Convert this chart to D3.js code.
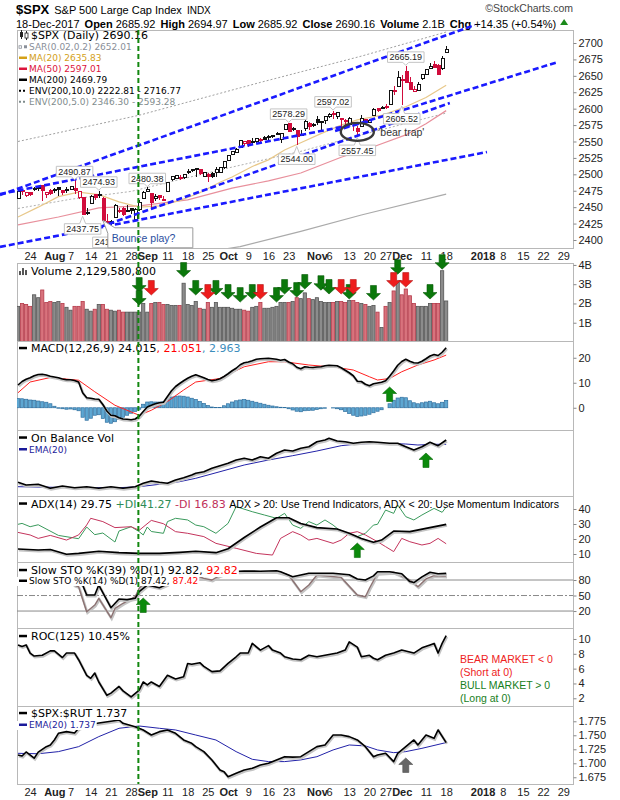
<!DOCTYPE html>
<meta charset="utf-8">
<style>
body { margin: 0; background: #fff; }
svg text { font-family: "Liberation Sans", Arial, sans-serif; }
.lgd { font-family: "DejaVu Sans", Verdana, sans-serif !important; }
</style>
<body>
<script src="https://d3js.org/d3.v7.min.js"></script>
<script>
// ---------- data ----------
var holidays = ["2017-09-04", "2017-11-23", "2017-12-25"];
var prevClose = 2460.61; // close before first bar, only used for colour

var open = [2463.85,2475.56,2467.40,2472.04,2477.88,2479.97,2482.76,2469.12,2475.94,2477.10,2480.38,2476.03,2476.88,2477.14,2478.35,2465.35,2465.38,2441.04,2454.96,2468.66,2468.63,2462.95,2427.64,2425.50,2433.75,2444.88,2447.91,2444.72,2447.35,2431.94,2446.06,2462.65,2474.42,2470.35,2463.83,2468.06,2462.25,2474.52,2491.94,2493.89,2494.56,2495.67,2502.51,2506.29,2506.84,2507.16,2497.26,2499.39,2501.04,2503.30,2503.41,2509.96,2521.20,2530.34,2533.48,2540.86,2547.44,2551.39,2549.99,2550.62,2552.88,2555.66,2555.57,2557.17,2562.87,2553.39,2567.56,2578.08,2568.66,2566.52,2560.08,2570.26,2577.75,2575.99,2583.21,2579.46,2581.93,2587.47,2592.11,2588.71,2584.00,2580.18,2576.53,2577.75,2569.45,2572.95,2582.94,2579.49,2589.17,2600.31,2600.42,2602.66,2605.94,2627.82,2633.93,2645.10,2657.19,2639.78,2626.24,2628.38,2646.21,2652.19,2661.73,2667.59,2665.87,2660.63,2685.92];
var high = [2473.83,2477.62,2472.54,2473.10,2481.24,2481.69,2484.04,2473.53,2477.96,2478.51,2480.38,2476.03,2480.00,2480.95,2490.87,2474.41,2465.38,2448.09,2468.22,2468.90,2474.93,2465.02,2440.27,2430.58,2454.77,2448.91,2450.39,2453.96,2449.12,2449.19,2460.31,2475.01,2480.38,2471.97,2469.64,2468.62,2467.11,2488.95,2496.77,2498.37,2498.43,2500.23,2508.32,2507.84,2508.85,2507.16,2503.47,2502.54,2503.51,2511.75,2510.81,2519.44,2529.23,2535.13,2540.53,2552.51,2549.41,2551.82,2555.23,2555.24,2555.33,2557.65,2559.47,2559.71,2564.11,2562.36,2575.44,2578.29,2572.18,2567.40,2567.07,2582.98,2580.03,2578.29,2588.40,2581.11,2588.42,2593.38,2597.02,2595.47,2586.50,2583.81,2587.66,2579.66,2572.84,2590.09,2583.96,2584.64,2601.19,2600.94,2604.21,2606.41,2627.69,2634.89,2657.74,2650.62,2665.19,2648.72,2634.41,2640.99,2651.65,2660.33,2669.72,2671.88,2668.09,2679.63,2694.97];
var low = [2463.85,2468.43,2465.06,2466.32,2474.91,2474.94,2459.93,2464.66,2468.53,2471.14,2466.48,2468.85,2472.08,2475.88,2470.32,2462.08,2437.75,2437.85,2454.96,2461.61,2463.86,2430.01,2420.69,2417.35,2433.67,2441.42,2436.19,2442.22,2439.03,2428.20,2443.77,2462.65,2473.85,2446.55,2459.20,2460.29,2459.40,2474.52,2490.37,2492.14,2491.35,2493.16,2499.92,2503.19,2496.67,2499.00,2496.54,2488.03,2495.12,2495.91,2502.93,2507.99,2520.40,2528.85,2531.80,2540.02,2543.79,2541.60,2544.86,2547.95,2548.31,2552.09,2552.64,2554.69,2559.67,2547.92,2567.56,2564.33,2565.58,2544.00,2559.80,2565.94,2568.25,2572.15,2574.92,2566.17,2576.77,2585.66,2584.35,2585.02,2566.33,2575.57,2574.48,2566.56,2557.45,2572.95,2577.62,2578.24,2589.17,2595.23,2600.42,2598.87,2605.44,2620.32,2633.93,2605.52,2639.03,2627.73,2624.75,2628.38,2644.10,2651.47,2659.78,2662.85,2652.01,2659.14,2685.92];
var close = [2473.83,2473.45,2472.54,2469.91,2477.13,2477.83,2475.42,2472.10,2470.30,2476.35,2477.57,2472.16,2476.83,2480.91,2474.92,2474.02,2438.21,2441.32,2465.84,2464.61,2468.11,2430.01,2425.55,2428.37,2452.51,2444.04,2438.97,2443.05,2444.24,2446.30,2457.59,2471.65,2476.55,2457.85,2465.54,2465.10,2461.43,2488.11,2496.48,2498.37,2495.62,2500.23,2503.87,2506.65,2508.24,2500.60,2502.22,2496.66,2496.84,2507.04,2510.06,2519.36,2529.12,2534.58,2537.74,2552.07,2549.33,2544.73,2550.64,2555.24,2550.93,2553.17,2557.64,2559.36,2561.26,2562.10,2575.21,2564.98,2569.13,2557.15,2560.40,2581.07,2572.83,2575.26,2579.36,2579.85,2587.84,2591.13,2590.64,2594.38,2584.62,2582.30,2584.84,2578.87,2564.62,2585.64,2578.85,2582.14,2599.03,2597.08,2602.42,2601.42,2627.04,2626.07,2647.58,2642.22,2639.44,2629.57,2629.27,2636.98,2651.50,2659.99,2664.11,2662.85,2652.01,2675.81,2690.16];

// volume, billions
var volume = [1.85,2.0,1.95,1.85,2.45,2.3,2.7,2.05,2.1,2.05,2.1,2.0,1.8,1.65,1.85,1.85,2.1,1.7,1.6,1.7,1.95,1.95,1.7,1.65,1.6,1.65,1.55,1.55,1.55,1.55,1.55,2.0,1.55,2.0,2.05,2.05,1.95,1.95,1.9,1.9,1.9,3.05,1.95,1.9,2.1,1.75,1.7,2.05,1.8,2.05,1.8,1.8,1.8,1.75,1.7,1.7,1.65,1.6,1.8,1.85,2.05,1.75,1.75,1.8,1.85,2.05,2.05,2.05,2.1,2.3,2.25,2.55,2.25,2.2,2.3,2.1,2.05,2.05,2.05,2.1,2.1,2.05,2.15,2.15,2.05,2.0,1.95,1.85,1.9,1.55,0.75,1.85,2.05,2.65,3.1,2.45,2.75,2.4,2.0,1.85,1.85,1.85,2.0,2.0,2.0,3.7,2.13];

// price overlays (sampled by trading-day index)
var ma20Day = [0,5,10,15,20,25,30,35,40,45,50,53,58,62,66,70,75,80,84,90,96,101,106];
var ma20Val = [2435,2450,2466,2473,2469,2458,2450,2452,2460,2472,2488,2496,2512,2522,2537,2548,2562,2575,2583,2590,2603,2617,2635.83];
var ma50Day = [0,10,20,30,42,53,62,70,80,88,96,101,106];
var ma50Val = [2423,2435,2449,2452,2461,2479,2490,2502,2526,2542,2560,2577,2597.01];
var ma200Day = [0,20,40,55,70,85,106];
var ma200Val = [2330,2352,2375,2390,2413,2438,2469.79];
var env10Day = [0,30,60,85,106];
var env10Val = [2550,2590,2640,2680,2716.77];
var env5Day = [0,13,28,42,53,70,85,106];
var env5Val = [2448,2462,2474,2495,2511,2535,2560,2593.28];

// hand-drawn trendlines: [day, price] ends
var trendFrom = [[-4.46,2468.5],[-4.46,2470.0],[78.5,2566.0],[20.3,2419.8],[-4.46,2389.4]];
var trendTo = [[113.1,2727.4],[87.6,2581.2],[133.7,2671.1],[106.9,2608.6],[116.1,2534.0]];

// price callouts
var peakDay = [14,20,16,23,32,67,69,78,84,95,96];
var peakVal = [2490.87,2474.93,2437.75,2417.35,2480.38,2578.29,2544.00,2597.02,2557.45,2605.52,2665.19];
var peakSide = ["above","above","below","below","above","above","below","above","below","below","above"];

// MACD
var macd = [9.1,10.5,11.4,12.0,12.8,13.3,13.4,13.1,12.6,12.3,12.0,11.5,11.2,11.2,10.9,10.3,6.0,4.0,3.8,3.5,3.4,1.3,-1.3,-3.0,-3.2,-4.0,-4.5,-4.6,-4.8,-4.5,-3.4,-1.5,0.3,1.0,1.6,2.0,2.2,4.5,6.8,8.5,9.7,10.8,11.8,12.6,13.2,12.6,12.0,11.3,10.8,11.1,11.6,12.5,13.6,14.8,15.8,17.2,18.0,18.3,18.8,19.4,19.6,19.7,19.8,19.6,19.4,19.0,19.3,18.3,17.6,16.2,15.6,16.4,16.2,16.1,16.3,16.4,16.8,17.0,16.9,16.8,16.0,15.0,14.0,12.8,10.6,10.5,9.4,8.8,9.6,9.9,10.2,10.8,12.6,14.7,17.0,18.5,19.4,18.6,18.0,17.9,18.6,19.6,20.7,21.3,20.9,22.2,24.015];
var signalDay = [0,3,8,15,19,24,30,33,37,41,44,50,56,62,66,72,79,83,87,89,92,95,99,103,106];
var signalVal = [6.0,10.3,12.1,11.0,6.4,1.0,-3.0,-1.0,2.5,7.1,10.3,11.7,16.4,18.4,18.4,17.1,16.1,15.1,12.4,11.1,11.7,14.4,17.1,19.1,21.051];
var hist = [3.7,3.6,3.4,3.1,3.0,2.7,2.4,2.2,1.6,0.6,-0.2,-0.4,-0.6,-0.5,-0.8,-1.2,-3.8,-5.0,-4.2,-3.0,-2.8,-4.3,-5.8,-6.2,-5.6,-4.6,-3.8,-3.0,-2.2,-1.5,-0.6,1.4,2.3,2.4,2.3,2.3,2.4,3.6,4.3,4.6,4.7,4.6,4.3,3.8,3.3,2.5,1.7,0.9,0.3,0.1,0.1,0.8,1.6,2.3,2.8,3.1,3.3,3.0,2.6,2.2,1.8,1.4,1.0,0.7,0.4,0.2,0.1,-0.4,-0.9,-1.4,-1.6,-1.2,-1.1,-1.0,-0.7,-0.4,-0.2,0.0,-0.1,-0.4,-0.8,-1.5,-2.3,-3.0,-3.5,-3.3,-3.0,-2.6,-2.0,-1.4,-0.8,0.0,1.6,3.0,3.9,4.2,4.0,2.8,2.0,1.6,2.0,2.3,2.6,2.0,1.6,2.2,2.963];

// On balance volume (relative, billions) and its EMA(20)
var obvDay = [0,2,5,8,11,14,17,20,23,26,29,31,33,35,37,39,41,43,44,46,48,50,52,54,56,58,60,62,64,66,68,70,72,74,76,77,79,81,83,85,87,89,92,94,96,98,100,102,104,106];
var obvVal = [7.7,5,5.7,1.7,4,2.3,3.3,1.7,3.3,1.7,3.3,6.7,9,7.7,6.7,10,12.3,15,16.7,18.3,21.7,24.3,26.7,30,31.7,30,33.3,31.7,36.7,40,39,41.7,43.3,48.3,50,51.7,49,48.3,46.7,47.7,48.3,47.7,46.7,46.7,43.3,40,43.3,47.7,44.3,50];
var obvEmaDay = [0,15,25,30,35,40,44,50,56,62,68,74,80,84,89,96,99,103,106];
var obvEmaVal = [3.3,2.3,2.3,3.3,5.7,8.3,11.7,18.3,25,30,34.3,39,44.3,46,46.7,46,45,45.7,45.7];

// ADX(14)
var adxDay = [0,5,8,12,15,20,25,30,35,40,44,49,52,56,60,64,67,70,74,79,82,85,88,90,93,97,101,106];
var adxVal = [13.3,12.7,13,9.8,10.4,11.8,10.9,10.4,10.4,11.1,11.8,10.9,13.5,21,28,34.2,34.2,30.4,27.6,26.7,23.8,20.4,17.8,19.3,25.3,24.9,27.1,29.75];
var pdiDay = [0,1,3,5,10,15,17,19,21,24,25,28,30,31,32,33,36,37,39,42,44,46,49,52,54,58,61,64,66,68,70,72,74,76,78,80,82,84,86,88,89,91,93,94,96,98,100,103,105,106];
var pdiVal = [29.8,30.4,28.2,29.5,22.4,20.2,28,22.9,24,18,25.3,28.2,24.9,22.7,28,25,23.8,31.6,33.8,32.7,29.3,28.2,23.8,30.4,41.6,38.2,36,33.8,37.1,29.3,27.1,31.6,29.3,32.7,29.3,24.9,22.7,21.6,23.8,29.3,29.8,39.3,37.1,42.7,34.9,32.7,36,40.4,37.8,41.27];
var mdiDay = [0,3,5,8,12,15,17,18,21,24,28,30,33,36,39,42,46,49,54,59,63,65,68,70,72,74,78,80,82,84,86,89,91,93,95,97,100,102,104,106];
var mdiVal = [24.4,22.7,20.4,22.4,19.3,22.7,29.3,33.8,31.6,27.6,28.2,25.8,32.4,30.2,24.9,23.8,21.6,17.1,13.8,10.4,9.3,20.4,24.9,22.7,19.3,20.4,17.1,19.3,23.8,24.9,22.7,18.2,14.9,11.6,20.4,18.2,16,17.1,20.4,16.83];

// Slow stochastics
var k39Day = [0,3,6,9,12,14,16,17,19,20,23,25,27,29,30,32,35,37,39,42,44,46,49,52,56,60,64,65,68,72,78,82,84,86,88,89,92,95,97,98,100,102,104,106];
var k39Val = [92,88,90,86,88,80,70.3,51,51,70.3,26.4,43.2,42,44.6,57.4,70.3,65,72,88,92,95,89.7,92,96,97.5,97,98,96,86.4,93,93,90,82,80,88,96,96,92,77,75,86,95,92,92.82];
var k14Day = [0,3,6,9,12,14,15,17,19,20,23,24,26,29,30,32,35,38,42,46,48,50,52,56,64,67,70,72,74,80,84,86,87,89,93,97,99,101,103,106];
var k14Val = [90,80,88,75,85,70,67,18.7,31.6,44.6,7.1,25,35,47.7,64,80,75,90,95,83.2,80,89,95,96,96,89.7,57.4,70.3,89.7,85,51,47.7,64,93,95,80,67,82,88.3,87.42];

// ROC(125)
var rocDay = [0,1,2,3,4,6,8,9,11,12,14,15,17,18,19,20,22,23,25,26,28,30,31,32,33,35,37,39,41,42,43,45,46,48,50,52,54,55,57,58,60,62,63,65,66,68,70,72,74,76,79,81,82,84,85,87,88,89,91,93,95,98,100,102,103,104,105,106];
var rocVal = [9.2,9.0,9.2,8.1,7.7,7.8,8.4,8.4,7.5,8.1,8.1,7.2,5.1,4.7,5.4,4.2,2.4,2.7,3.6,3.0,2.2,3.1,4.2,3.8,4.2,3.6,5.1,4.6,4.9,6.7,6.6,6.8,6.3,5.6,5.7,6.7,7.6,8.1,8.1,9.4,8.5,9.1,8.5,8.1,7.6,7.3,7.2,7.8,7.6,7.8,8.1,8.5,9.6,8.9,7.6,7.8,7.4,7.2,7.8,8.1,8.5,8.1,8.8,9.2,9.4,8.1,9.4,10.45];

// $SPX:$RUT ratio and EMA(20)
var ratioDay = [0,1,2,4,5,7,8,9,10,12,14,15,17,20,23,25,26,29,31,33,35,37,39,41,43,44,46,48,50,51,52,54,56,58,60,62,64,66,68,70,72,74,76,78,80,82,84,86,88,89,91,93,94,96,98,99,101,103,104,106];
var ratioVal = [1.7148,1.713,1.7202,1.709,1.72,1.7297,1.7327,1.7416,1.7535,1.7565,1.754,1.7625,1.768,1.772,1.775,1.7773,1.7714,1.7654,1.7595,1.7505,1.7565,1.7595,1.7535,1.7416,1.7357,1.7297,1.7208,1.7059,1.688,1.685,1.676,1.682,1.688,1.691,1.697,1.700,1.706,1.7118,1.711,1.7118,1.7208,1.7297,1.7327,1.7505,1.7505,1.7476,1.7416,1.7297,1.7118,1.7148,1.7178,1.703,1.7178,1.7297,1.7416,1.7327,1.7505,1.7446,1.7595,1.737];
var ratioEmaDay = [0,5,10,15,20,25,30,35,39,44,49,54,58,62,66,70,74,78,82,86,89,93,96,100,106];
var ratioEmaVal = [1.7178,1.717,1.7208,1.7297,1.7476,1.7625,1.7666,1.7625,1.7595,1.7505,1.7416,1.7208,1.7071,1.703,1.703,1.706,1.7118,1.7238,1.7327,1.731,1.7238,1.719,1.7208,1.7267,1.737];

// annotation arrows (day, value at tip)
var greenVolArrowDay = [30,30,41,44,49,52,55,58,64,66,69,71,75,77,82,88,94,102,105];
var greenVolArrowTip = [2.59,1.92,3.37,2.44,2.44,2.23,2.07,2.23,2.07,2.49,2.33,2.75,2.69,2.49,2.23,2.18,3.52,2.23,3.78];
var redVolArrowDay = [33,47,60,80,83,93,96];
var redVolArrowTip = [2.44,2.23,2.23,2.49,2.49,2.85,2.85];
var signalLineDay = 29.8;

// axis ticks
var tickDates = ["2017-07-24","2017-08-01","2017-08-07","2017-08-14","2017-08-21","2017-08-28","2017-09-01","2017-09-11","2017-09-18","2017-09-25","2017-10-02","2017-10-09","2017-10-16","2017-10-23","2017-11-01","2017-11-06","2017-11-13","2017-11-20","2017-11-27","2017-12-01","2017-12-11","2017-12-18","2018-01-01","2018-01-08","2018-01-15","2018-01-22","2018-01-29"];
var tickText = ["24","Aug","7","14","21","28","Sep","11","18","25","Oct","9","16","23","Nov","6","13","20","27","Dec","11","18","2018","8","15","22","29"];
var priceTicks = [2400,2425,2450,2475,2500,2525,2550,2575,2600,2625,2650,2675,2700];
var volTicks = [1,2,3,4];
var macdTicks = [0,10,20];
var adxTicks = [10,20,30,40];
var stoTicks = [20,50,80];
var rocTicks = [2,4,6,8,10];
var ratioTicks = [1.675,1.700,1.725,1.750,1.775];

// ---------- calendar ----------
var fmt = d3.utcFormat("%Y-%m-%d");
var days = d3.utcDay.range(new Date(Date.UTC(2017, 6, 19)), new Date(Date.UTC(2018, 1, 3)))
  .filter(function(d) { var w = d.getUTCDay(); return w > 0 && w < 6 && holidays.indexOf(fmt(d)) < 0; });
var dayIndex = {};
days.forEach(function(d, i) { dayIndex[fmt(d)] = i; });
var tickDays = tickDates.map(function(d) { return dayIndex[d]; });

// ---------- layout ----------
var L = 17, R = 573;
var svg = d3.select("body").append("svg").attr("width", 620).attr("height", 800);
var defs = svg.append("defs");
var x = d3.scaleLinear().domain([-0.25, 137.4]).range([L, R]);

var P = {price: [30, 248], vol: [263, 341], macd: [341, 430], obv: [430, 496],
         adx: [496, 562], sto: [562, 628], roc: [628, 706], ratio: [706, 784]};
var yPrice = d3.scaleLinear().domain([2387.8, 2719.8]).range([248, 30]);
var yVol = d3.scaleLinear().domain([0, 4.1]).range([342, 263]);
var yMacd = d3.scaleLinear().domain([-8.9, 26.7]).range([430, 341]);
var yObv = d3.scaleLinear().domain([-6, 60]).range([496, 430]);
var yAdx = d3.scaleLinear().domain([4.67, 48.67]).range([562, 496]);
var ySto = d3.scaleLinear().domain([-12.8, 114.8]).range([628, 562]);
var yRoc = d3.scaleLinear().domain([0.96, 11.48]).range([706, 628]);
var yRatio = d3.scaleLinear().domain([1.663, 1.8023]).range([784, 706]);

function clip(name) {
  var p = P[name];
  defs.append("clipPath").attr("id", "c-" + name).append("rect")
    .attr("x", L).attr("y", p[0]).attr("width", R - L).attr("height", p[1] - p[0]);
  return svg.append("g").attr("clip-path", "url(#c-" + name + ")");
}
function zip(a, b) { return a.map(function(d, i) { return [d, b[i]]; }); }
function daily(arr) { return arr.map(function(v, i) { return [i, v]; }); }
function drawLine(g, data, y, color, w, opts) {
  opts = opts || {};
  var line = d3.line().x(function(d) { return x(d[0]); }).y(function(d) { return y(d[1]); });
  if (opts.shadow) {
    g.append("path").attr("d", line(data)).attr("fill", "none").attr("stroke", "#c4c4c4")
      .attr("stroke-width", w + 1).attr("transform", "translate(0.8,1.2)");
  }
  return g.append("path").attr("d", line(data)).attr("fill", "none").attr("stroke", color)
    .attr("stroke-width", w).attr("stroke-linejoin", "round")
    .attr("stroke-dasharray", opts.dash || null).attr("opacity", opts.opacity || 1);
}

// ---------- header ----------
var hd = svg.append("g");
var h1 = hd.append("text").attr("x", 16).attr("y", 13.5).attr("font-size", 11);
h1.append("tspan").attr("font-size", 13).attr("font-weight", "bold").text("$SPX");
h1.append("tspan").attr("dx", 5).text("S&P 500 Large Cap Index");
h1.append("tspan").attr("dx", 5).attr("font-size", 10).text("INDX");
hd.append("text").attr("x", 573).attr("y", 12).attr("font-size", 10.5).attr("fill", "#444")
  .attr("text-anchor", "end").text("\u00A9StockCharts.com");
var h2 = hd.append("text").attr("x", 16).attr("y", 27.5).attr("font-size", 11);
[["18-Dec-2017", 0, 0], ["Open", 1, 5], ["2685.92", 0, 3], ["High", 1, 5], ["2694.97", 0, 3],
 ["Low", 1, 5], ["2685.92", 0, 3], ["Close", 1, 5], ["2690.16", 0, 3], ["Volume", 1, 5],
 ["2.1B", 0, 3], ["Chg", 1, 5], ["+14.35 (+0.54%)", 0, 3]].forEach(function(t) {
  h2.append("tspan").attr("dx", t[2]).attr("font-weight", t[1] ? "bold" : null).text(t[0]);
});
var hb = h2.node().getBBox();
hd.append("path").attr("d", "M" + (hb.x + hb.width + 4) + ",25 l4,-6 l4,6 z").attr("fill", "#1a8a1a");

// ---------- panel frames ----------
Object.keys(P).forEach(function(k) {
  svg.append("rect").attr("x", L + 0.5).attr("y", P[k][0] + 0.5).attr("width", R - L)
    .attr("height", P[k][1] - P[k][0]).attr("fill", "none").attr("stroke", "#b8b8b8");
});

// ---------- price panel ----------
var pg = clip("price");
drawLine(pg, zip(env10Day, env10Val), yPrice, "#a0a0a0", 1, {dash: "2,2"});
drawLine(pg, zip(env5Day, env5Val), yPrice, "#b0b0b0", 1, {dash: "2,2"});
drawLine(pg, zip(ma200Day, ma200Val), yPrice, "#aaaaaa", 1.2);
drawLine(pg, zip(ma50Day, ma50Val), yPrice, "#e8909c", 1.2);
drawLine(pg, zip(ma20Day, ma20Val), yPrice, "#e8c88a", 1.2);

var cg = pg.append("g").attr("shape-rendering", "crispEdges");
close.forEach(function(c, i) {
  var o = open[i], prev = i ? close[i - 1] : prevClose;
  var col = c >= prev ? "#111" : "#d10c3c";
  var cx = Math.round(x(i)) + 0.5;
  var yt = yPrice(Math.max(o, c)), yb = yPrice(Math.min(o, c));
  if (yb - yt < 1) { yb = yt + 1; }
  cg.append("line").attr("x1", cx).attr("x2", cx).attr("y1", yPrice(high[i])).attr("y2", yt).attr("stroke", col);
  cg.append("line").attr("x1", cx).attr("x2", cx).attr("y1", yb).attr("y2", yPrice(low[i])).attr("stroke", col);
  cg.append("rect").attr("x", cx - 1.5).attr("y", yt).attr("width", 3).attr("height", yb - yt)
    .attr("fill", c > o ? "#fff" : col).attr("stroke", col);
});

// trendlines (drawn unclipped, like the hand annotations)
var tg = svg.append("g");
trendFrom.forEach(function(a, k) {
  var b = trendTo[k];
  tg.append("line").attr("x1", x(a[0])).attr("y1", yPrice(a[1])).attr("x2", x(b[0])).attr("y2", yPrice(b[1]))
    .attr("stroke", "#1a1aff").attr("stroke-width", 2.6).attr("stroke-dasharray", "6,3");
});

// callout boxes
peakDay.forEach(function(d, k) {
  var g = svg.append("g");
  var cx = x(d), v = peakVal[k], yv = yPrice(v), above = peakSide[k] === "above";
  var t = g.append("text").attr("font-size", 9).attr("text-anchor", "middle").attr("x", cx).attr("fill", "#222").text(v.toFixed(2));
  var w = t.node().getComputedTextLength() + 4, h = 10.5;
  var top = above ? yv - 3.5 - h : yv + 8.5, bot = top + h;
  t.attr("y", top + 8.4);
  var path = above
    ? "M" + (cx - w / 2) + "," + top + "H" + (cx + w / 2) + "V" + bot + "H" + (cx + 3) + "L" + cx + "," + (yv - 0.5) + "L" + (cx - 3) + "," + bot + "H" + (cx - w / 2) + "Z"
    : "M" + (cx - w / 2) + "," + top + "H" + (cx - 3) + "L" + cx + "," + (yv + 1) + "L" + (cx + 3) + "," + top + "H" + (cx + w / 2) + "V" + bot + "H" + (cx - w / 2) + "Z";
  g.insert("path", "text").attr("d", path).attr("fill", "#fff").attr("stroke", "#c4c4c4");
});

// "Bounce play?" note pointing at Aug 17 low
(function() {
  var ax = x(21), ay = yPrice(low[21]);
  var g = svg.append("g");
  g.append("path").attr("d", "M" + (ax + 5) + "," + (ay + 13) + "L" + ax + "," + ay + "L" + (ax + 12) + "," + (ay + 7.5) +
    "H" + (ax + 90) + "V" + (ay + 27.5) + "H" + (ax + 5) + "Z").attr("fill", "#fff").attr("stroke", "#9a9a9a");
  g.append("text").attr("x", ax + 9).attr("y", ay + 22).attr("font-size", 10.5).attr("fill", "#2a4ea0").text("Bounce play?");
})();

// "bear trap" ring around Nov 15
(function() {
  var cx = x(84), cy = yPrice(close[84]);
  svg.append("ellipse").attr("cx", cx).attr("cy", cy).attr("rx", 16.5).attr("ry", 9)
    .attr("fill", "none").attr("stroke", "#3a3a3a").attr("stroke-width", 2.4);
  svg.append("text").attr("x", cx + 21).attr("y", cy + 4.5).attr("font-size", 10.5).attr("fill", "#333").text("'bear trap'");
})();

// ---------- volume ----------
var vg = clip("vol");
volume.forEach(function(v, i) {
  var up = close[i] >= (i ? close[i - 1] : prevClose);
  vg.append("rect").attr("x", x(i) - 1.6).attr("y", yVol(v)).attr("width", 3.2).attr("height", yVol(0) - yVol(v))
    .attr("fill", up ? "#8c8c8c" : "#d8737d").attr("stroke", up ? "#555" : "#b53a4a").attr("stroke-width", 0.8);
});

// ---------- MACD ----------
var mg = clip("macd");
hist.forEach(function(h, i) {
  var y0 = yMacd(0), y1 = yMacd(h);
  mg.append("rect").attr("x", x(i) - 1.6).attr("y", Math.min(y0, y1)).attr("width", 3.2).attr("height", Math.abs(y1 - y0))
    .attr("fill", "#5ea7d2").attr("stroke", "#2f6f9f").attr("stroke-width", 0.7);
});
drawLine(mg, zip(signalDay, signalVal), yMacd, "#ff2020", 1);
drawLine(mg, daily(macd), yMacd, "#000", 1.6, {shadow: true});

// ---------- OBV ----------
var og = clip("obv");
drawLine(og, zip(obvEmaDay, obvEmaVal), yObv, "#2222a8", 1);
drawLine(og, zip(obvDay, obvVal), yObv, "#000", 1.6, {shadow: true});

// ---------- ADX ----------
var ag = clip("adx");
drawLine(ag, zip(pdiDay, pdiVal), yAdx, "#3a9a5c", 1);
drawLine(ag, zip(mdiDay, mdiVal), yAdx, "#c4345c", 1);
drawLine(ag, zip(adxDay, adxVal), yAdx, "#000", 1.6, {shadow: true});

// ---------- STO ----------
var sg = clip("sto");
[80, 20].forEach(function(v) {
  sg.append("line").attr("x1", L).attr("x2", R).attr("y1", ySto(v)).attr("y2", ySto(v)).attr("stroke", "#8a8a8a");
});
sg.append("line").attr("x1", L).attr("x2", R).attr("y1", ySto(50)).attr("y2", ySto(50))
  .attr("stroke", "#8a8a8a").attr("stroke-dasharray", "6,2,2,2");
drawLine(sg, zip(k14Day, k14Val), ySto, "#8c7272", 1.4, {shadow: true});
drawLine(sg, zip(k39Day, k39Val), ySto, "#000", 1.6, {shadow: true});

// ---------- ROC ----------
var rg = clip("roc");
drawLine(rg, zip(rocDay, rocVal), yRoc, "#000", 1.6, {shadow: true});
[["BEAR MARKET < 0", "#ee2222"], ["(Short at 0)", "#ee2222"], ["BULL MARKET > 0", "#18801c"], ["(Long at 0)", "#18801c"]]
  .forEach(function(t, k) {
    svg.append("text").attr("x", 460).attr("y", 663 + k * 13).attr("font-size", 10.5).attr("fill", t[1]).text(t[0]);
  });

// ---------- ratio ----------
var qg = clip("ratio");
drawLine(qg, zip(ratioEmaDay, ratioEmaVal), yRatio, "#2222a8", 1);
drawLine(qg, zip(ratioDay, ratioVal), yRatio, "#000", 1.6, {shadow: true});

// ---------- legends ----------
function legend(x0, yb, size, parts, icon, bg) {
  var g = svg.append("g");
  var t = g.append("text").attr("class", "lgd").attr("x", x0).attr("y", yb).attr("font-size", size);
  parts.forEach(function(p) {
    t.append("tspan").attr("fill", p[1]).attr("font-size", p[2] || null)
      .style("font-family", p[2] ? "'Liberation Sans', Arial, sans-serif" : null).text(p[0]);
  });
  if (bg) {
    var bb = t.node().getBBox();
    g.insert("rect", "text").attr("x", bb.x - 13).attr("y", bb.y + 1).attr("width", bb.width + 14)
      .attr("height", bb.height - 1).attr("fill", "#fff");
  }
  if (icon) icon(g, yb - size * 0.36);
}
function iconLine(color, w, dash) {
  return function(g, cy) {
    g.append("line").attr("x1", 19).attr("x2", 27).attr("y1", cy).attr("y2", cy)
      .attr("stroke", color).attr("stroke-width", w).attr("stroke-dasharray", dash || null);
  };
}
function iconBars(g, cy) {
  [[19, 4], [22, 7], [25, 5]].forEach(function(b) {
    g.append("rect").attr("x", b[0]).attr("y", cy + 4 - b[1]).attr("width", 2).attr("height", b[1]).attr("fill", "#555");
  });
}
function iconCandle(g, cy) {
  g.append("line").attr("x1", 21.5).attr("x2", 21.5).attr("y1", cy - 5).attr("y2", cy + 4).attr("stroke", "#222");
  g.append("rect").attr("x", 20).attr("y", cy - 3).attr("width", 3).attr("height", 5).attr("fill", "#222");
  g.append("line").attr("x1", 26.5).attr("x2", 26.5).attr("y1", cy - 4).attr("y2", cy + 5).attr("stroke", "#222");
  g.append("rect").attr("x", 25).attr("y", cy - 2).attr("width", 3).attr("height", 5).attr("fill", "#fff").attr("stroke", "#222").attr("stroke-width", 0.8);
}
function iconSar(g, cy) {
  g.append("rect").attr("x", 19).attr("y", cy - 1).attr("width", 2.5).attr("height", 2.5).attr("fill", "none").attr("stroke", "#8a8f99").attr("stroke-width", 0.8);
  g.append("rect").attr("x", 24).attr("y", cy - 1.5).attr("width", 3).attr("height", 3).attr("fill", "#8a8f99");
}

legend(31, 39, 11, [["$SPX (Daily) 2690.16", "#000"]], iconCandle);
legend(29, 50, 9, [["SAR(0.02,0.2) 2652.01", "#8a8f99"]], iconSar);
legend(29, 61, 9, [["MA(20) 2635.83", "#d4a017"]], iconLine("#d4a017", 2.5));
legend(29, 72, 9, [["MA(50) 2597.01", "#dc143c"]], iconLine("#dc143c", 2.5));
legend(29, 83, 9, [["MA(200) 2469.79", "#000"]], iconLine("#000", 2.5));
legend(29, 94, 9, [["ENV(200,10.0) 2222.81 - 2716.77", "#000"]], iconLine("#000", 2, "2,2"));
legend(29, 105, 9, [["ENV(200,5.0) 2346.30 - 2593.28", "#7f8c8d"]], iconLine("#7f8c8d", 2, "2,2"));

legend(31, 275, 11, [["Volume 2,129,580,800", "#000"]], iconBars);
legend(31, 352, 11, [["MACD(12,26,9) 24.015", "#000"], [", 21.051", "#ff0000"], [", 2.963", "#3c8dbc"]], iconLine("#000", 2.5));
legend(31, 441.5, 11, [["On Balance Vol", "#000"]], iconLine("#000", 2.5));
legend(29, 452.5, 9, [["EMA(20)", "#1a1a9a"]], iconLine("#1a1a9a", 2.5));
legend(31, 507.5, 11, [["ADX(14) 29.75 ", "#000"], ["+DI 41.27 ", "#2e8b57"], ["-DI 16.83 ", "#c0305a"],
  ["ADX > 20: Use Trend Indicators, ADX < 20: Use Momentum Indicators", "#000", 10.6]], iconLine("#000", 2.5));
legend(31, 574, 11, [["Slow STO %K(39) %D(1) 92.82, ", "#000"], ["92.82", "#ff0000"]], iconLine("#000", 2.5), true);
legend(29, 584, 9, [["Slow STO %K(14) %D(1) 87.42, ", "#000"], ["87.42", "#ff0000"]], iconLine("#000", 2.5), true);
legend(31, 640, 11, [["ROC(125) 10.45%", "#000"]], iconLine("#000", 2.5));
legend(31, 717, 11, [["$SPX:$RUT 1.737", "#000"]], iconLine("#000", 2.5), true);
legend(29, 728, 9, [["EMA(20) 1.737", "#1a1a9a"]], iconLine("#1a1a9a", 2.5), true);

// ---------- axes ----------
function yAxis(scale, ticks, f) {
  var g = svg.append("g").attr("transform", "translate(" + (R + 0.5) + ",0)")
    .call(d3.axisRight(scale).tickValues(ticks).tickSize(3).tickPadding(2).tickFormat(f));
  g.select(".domain").remove();
  g.selectAll("line").attr("stroke", "#888");
  g.selectAll("text").attr("font-size", 11).attr("fill", "#222").attr("font-family", "'Liberation Sans', Arial, sans-serif");
}
yAxis(yPrice, priceTicks, d3.format("d"));
yAxis(yVol, volTicks, function(d) { return d + "B"; });
yAxis(yMacd, macdTicks, d3.format("d"));
yAxis(yAdx, adxTicks, d3.format("d"));
yAxis(ySto, stoTicks, d3.format("d"));
yAxis(yRoc, rocTicks, d3.format("d"));
yAxis(yRatio, ratioTicks, d3.format(".3f"));

function xAxis(y0) {
  var g = svg.append("g").attr("transform", "translate(0," + y0 + ")")
    .call(d3.axisBottom(x).tickValues(tickDays).tickSize(0).tickPadding(3)
      .tickFormat(function(d, i) { return tickText[i]; }));
  g.select(".domain").remove();
  g.selectAll("text").attr("font-size", 11).attr("fill", "#222").attr("font-family", "'Liberation Sans', Arial, sans-serif")
    .attr("font-weight", function(d, i) { return /^[A-Z]|^2018$/.test(tickText[i]) ? "bold" : null; });
}
xAxis(249);
xAxis(785);

// ---------- signal line and arrows ----------
svg.append("line").attr("x1", x(signalLineDay)).attr("x2", x(signalLineDay)).attr("y1", P.price[0]).attr("y2", P.ratio[1])
  .attr("stroke", "#12870f").attr("stroke-width", 2).attr("stroke-dasharray", "5,3");

function arrow(cx, tip, dir, fill) {
  var h = 14.5, hh = 6.5, hw = 7, sw = 3;
  var b = tip - dir * h, m = tip - dir * hh;
  svg.append("path")
    .attr("d", "M" + (cx - sw) + "," + b + "L" + (cx + sw) + "," + b + "L" + (cx + sw) + "," + m + "L" + (cx + hw) + "," + m +
      "L" + cx + "," + tip + "L" + (cx - hw) + "," + m + "L" + (cx - sw) + "," + m + "Z")
    .attr("fill", fill).attr("stroke", d3.color(fill).darker(0.8)).attr("stroke-width", 0.6);
}
greenVolArrowDay.forEach(function(d, k) { arrow(x(d), yVol(greenVolArrowTip[k]), 1, "#0b780b"); });
redVolArrowDay.forEach(function(d, k) { arrow(x(d), yVol(redVolArrowTip[k]), 1, "#ee1c1c"); });
arrow(x(92), yMacd(8.3), -1, "#0b8a0b");
arrow(x(101), yObv(37), -1, "#0b8a0b");
arrow(x(84), yAdx(17.3), -1, "#0b8a0b");
arrow(x(31), ySto(45.2), -1, "#0b8a0b");
arrow(x(96), yRatio(1.7095), -1, "#666666");
</script>
</body>
</html>
